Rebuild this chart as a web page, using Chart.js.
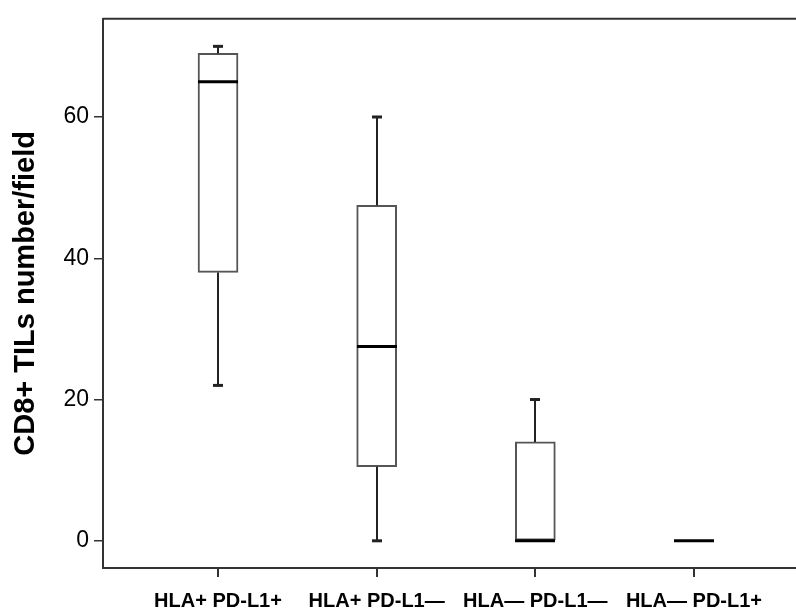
<!DOCTYPE html>
<html>
<head>
<meta charset="utf-8">
<script src="https://cdn.jsdelivr.net/npm/chart.js@4.4.0/dist/chart.umd.min.js"></script>
<style>
  html, body { margin: 0; padding: 0; background: #fff; overflow: hidden; }
  #wrap { position: relative; width: 796px; height: 611px; }
</style>
</head>
<body>
<div id="wrap"><canvas id="c" width="796" height="611"></canvas></div>
<script>
// ---- data ----
const categories = ['HLA+ PD-L1+', 'HLA+ PD-L1\u2014', 'HLA\u2014 PD-L1\u2014', 'HLA\u2014 PD-L1+'];
const whiskerLow = [22, 0, 0, 0];
const q1Values   = [38, 10.5, 0, 0];
const medians    = [65, 27.5, 0, 0];
const q3Values   = [69, 47.5, 14, 0];
const whiskerHigh= [70, 60, 20, 0];
const yTickValues = [0, 20, 40, 60];
const yTitle = 'CD8+ TILs number/field';

const positions = categories.map((_, i) => i + 1);

const boxPlugin = {
  id: 'boxExtras',
  afterDatasetsDraw(chart) {
    const { ctx, chartArea } = chart;
    const xs = chart.scales.x, ys = chart.scales.y;
    ctx.save();
    positions.forEach((p, i) => {
      const cx = Math.round(xs.getPixelForValue(p));
      const half = 20, cap = 5;
      ctx.strokeStyle = '#222';
      ctx.lineWidth = 2;
      ctx.lineCap = 'butt';
      if (whiskerHigh[i] > q3Values[i]) {
        ctx.beginPath();
        ctx.moveTo(cx, ys.getPixelForValue(q3Values[i]));
        ctx.lineTo(cx, ys.getPixelForValue(whiskerHigh[i]));
        ctx.stroke();
        ctx.lineWidth = 3;
        ctx.beginPath();
        ctx.moveTo(cx - cap, ys.getPixelForValue(whiskerHigh[i]));
        ctx.lineTo(cx + cap, ys.getPixelForValue(whiskerHigh[i]));
        ctx.stroke();
      }
      ctx.lineWidth = 2;
      if (whiskerLow[i] < q1Values[i]) {
        ctx.beginPath();
        ctx.moveTo(cx, ys.getPixelForValue(q1Values[i]));
        ctx.lineTo(cx, ys.getPixelForValue(whiskerLow[i]));
        ctx.stroke();
        ctx.lineWidth = 3;
        ctx.beginPath();
        ctx.moveTo(cx - cap, ys.getPixelForValue(whiskerLow[i]));
        ctx.lineTo(cx + cap, ys.getPixelForValue(whiskerLow[i]));
        ctx.stroke();
      }
      ctx.strokeStyle = '#000';
      ctx.lineWidth = 3;
      ctx.beginPath();
      ctx.moveTo(cx - half, ys.getPixelForValue(medians[i]));
      ctx.lineTo(cx + half, ys.getPixelForValue(medians[i]));
      ctx.stroke();
    });
    ctx.strokeStyle = '#333';
    ctx.lineWidth = 2;
    ctx.beginPath();
    ctx.moveTo(chartArea.left, chartArea.top);
    ctx.lineTo(chartArea.right, chartArea.top);
    ctx.stroke();
    ctx.restore();
  }
};

new Chart(document.getElementById('c'), {
  type: 'bar',
  data: {
    datasets: [{
      data: positions.map((p, i) => ({ x: p, y: [q1Values[i], q3Values[i]] })),
      backgroundColor: '#ffffff',
      borderColor: '#555',
      borderWidth: 2,
      borderSkipped: false,
      barThickness: 40
    }]
  },
  options: {
    responsive: false,
    animation: false,
    events: [],
    layout: { padding: { top: 8, right: 0, left: 0, bottom: 0 } },
    plugins: { legend: { display: false }, tooltip: { enabled: false } },
    scales: {
      x: {
        type: 'linear',
        offset: false,
        min: 0.275,
        max: 4.643,
        afterBuildTicks(s) { s.ticks = positions.map(v => ({ value: v })); },
        afterFit(s) { s.height = 43; },
        border: { display: true, color: '#333', width: 2 },
        grid: { offset: false, drawOnChartArea: false, drawTicks: true, tickLength: 9, color: '#333', lineWidth: 2 },
        ticks: {
          autoSkip: false,
          maxRotation: 0,
          padding: 12,
          color: '#000',
          font: { family: 'Liberation Sans, Arial, sans-serif', size: 20, weight: 'bold' },
          callback: v => categories[v - 1]
        }
      },
      y: {
        min: -3.85,
        max: 73.9,
        afterBuildTicks(s) { s.ticks = yTickValues.map(v => ({ value: v })); },
        afterFit(s) { s.width = 103; },
        border: { display: true, color: '#333', width: 2 },
        grid: { drawOnChartArea: false, drawTicks: true, tickLength: 9, color: '#333', lineWidth: 1.5 },
        ticks: {
          padding: 5,
          color: '#000',
          font: { family: 'Liberation Sans, Arial, sans-serif', size: 23 }
        },
        title: {
          display: true,
          text: yTitle,
          color: '#000',
          padding: { top: 9, bottom: 0 },
          font: { family: 'Liberation Sans, Arial, sans-serif', size: 29, weight: 'bold' }
        }
      }
    }
  },
  plugins: [boxPlugin]
});
</script>
</body>
</html>
